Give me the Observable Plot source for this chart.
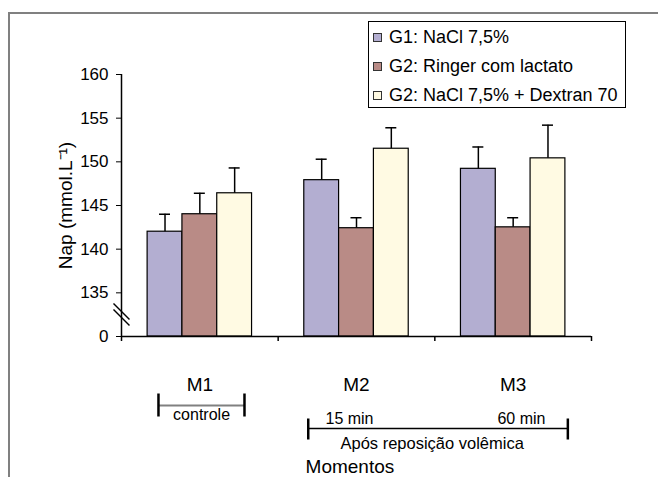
<!DOCTYPE html>
<html><head><meta charset="utf-8">
<script src="https://cdn.jsdelivr.net/npm/d3@7"></script>
<script src="https://cdn.jsdelivr.net/npm/@observablehq/plot@0.6"></script>
<style>
body{margin:0;background:#fff;}
#wrap{position:relative;width:658px;height:477px;overflow:hidden;font-family:"Liberation Sans",Arial,sans-serif;background:#fff;}
#border{position:absolute;left:8px;top:12px;width:700px;height:500px;border-top:2px solid #808080;border-left:2px solid #808080;}
#chart{position:absolute;left:0;top:0;}
#legend{position:absolute;left:368px;top:21px;width:256px;height:85px;border:1.5px solid #000;background:#fff;}
.row{position:absolute;left:0;height:22px;display:flex;align-items:center;font-size:18px;white-space:nowrap;color:#000;}
.sw{width:7px;height:7px;border:1px solid #333;margin-left:4px;margin-right:7px;flex:none;}
</style></head>
<body><div id="wrap"><div id="border"></div><div id="chart"></div><div id="legend"></div></div>
<script>
// ---- data ----
const moments = ["M1", "M2", "M3"];
const groups = ["G1: NaCl 7,5%", "G2: Ringer com lactato", "G2: NaCl 7,5% + Dextran 70"];
const colors = ["#b3aed1", "#b98b86", "#fffae3"];
const g1Mean = [142.0, 147.9, 149.2];
const g2Mean = [144.0, 142.4, 142.5];
const g3Mean = [146.4, 151.5, 150.4];
const g1Sd = [2.0, 2.4, 2.5];
const g2Sd = [2.4, 1.2, 1.1];
const g3Sd = [2.9, 2.4, 3.8];
const yTicks = [130, 135, 140, 145, 150, 155, 160];
const yTickLabels = ["0", "135", "140", "145", "150", "155", "160"];
const yLabel = "Nap (mmol.L⁻¹)";
const xLabel = "Momentos";
const controlLabel = "controle";
const afterLabel = "Após reposição volêmica";
const t15Label = "15 min";
const t60Label = "60 min";

// ---- build table ----
const means = [g1Mean, g2Mean, g3Mean];
const sds = [g1Sd, g2Sd, g3Sd];
const nG = groups.length;
const slot = nG + 1.5; // bar slots per moment (incl. outer padding)
const rows = moments.flatMap((m, i) => groups.map((g, j) => {
  const x1 = i + (0.75 + j) / slot;
  return {moment: m, group: g, mean: means[j][i], sd: sds[j][i], x1, x2: x1 + 1 / slot, xc: x1 + 0.5 / slot};
}));
const boundaries = d3.range(moments.length + 1);

// ---- layout ----
const W = 658, H = 477, mL = 121, mR = 67, mT = 74, mB = 141;
const frameH = H - mT - mB;
const yMin = yTicks[0], yMax = yTicks[yTicks.length - 1];
const below = px => yMin - px * (yMax - yMin) / frameH; // px below the x axis
const unit = (W - mL - mR) / moments.length;
const pxX = px => px / unit; // horizontal px in x units
const cap = pxX(5.5);

const chart = Plot.plot({
  width: W, height: H,
  marginLeft: mL, marginRight: mR, marginTop: mT, marginBottom: mB,
  style: {fontFamily: '"Liberation Sans", Arial, sans-serif', fontSize: "17px", color: "#000", background: "transparent"},
  x: {domain: [0, moments.length], axis: null},
  y: {domain: [yMin, yMax], ticks: yTicks, tickFormat: d => yTickLabels[yTicks.indexOf(d)], tickSize: 5, tickPadding: 8, label: null},
  color: {domain: groups, range: colors},
  marks: [
    Plot.rectY(rows, {x1: "x1", x2: "x2", y1: yMin, y2: "mean", fill: "group", stroke: "#000", strokeWidth: 1.2}),
    Plot.ruleX(rows, {x: "xc", y1: "mean", y2: d => d.mean + d.sd, stroke: "#000", strokeWidth: 1.5}),
    Plot.ruleY(rows, {y: d => d.mean + d.sd, x1: d => d.xc - cap, x2: d => d.xc + cap, stroke: "#000", strokeWidth: 1.5}),
    // axes lines
    Plot.ruleX([0], {y1: yMin, y2: yMax, stroke: "#000", strokeWidth: 1.5}),
    Plot.ruleY([yMin], {stroke: "#000", strokeWidth: 1.5}),
    Plot.ruleX(boundaries, {y1: yMin, y2: below(5), stroke: "#000", strokeWidth: 1.5}),
    // axis break marks
    Plot.link([-3, 3], {x1: -pxX(8), x2: pxX(8), y1: d => below(-22 + d - 8), y2: d => below(-22 + d + 8), stroke: "#000", strokeWidth: 1.5}),
    // moment labels
    Plot.text(moments, {x: (d, i) => i + 0.5, y: below(48), text: d => d, fontSize: 19}),
    // controle bracket
    Plot.link([0], {x1: 0.236, x2: 0.785, y1: below(69), y2: below(69), stroke: "#808080", strokeWidth: 2}),
    Plot.link([0.236, 0.785], {x1: d => d, x2: d => d, y1: below(57), y2: below(80), stroke: "#000", strokeWidth: 2.5}),
    Plot.text([controlLabel], {x: 0.511, y: below(78), text: d => d, fontSize: 16}),
    // post-reposition bracket
    Plot.link([0], {x1: 1.192, x2: 2.849, y1: below(92), y2: below(92), stroke: "#000", strokeWidth: 1.5}),
    Plot.link([1.192, 2.849], {x1: d => d, x2: d => d, y1: below(82), y2: below(103), stroke: "#000", strokeWidth: 2.5}),
    Plot.text([t15Label], {x: 1.302, y: below(82), text: d => d, fontSize: 16, textAnchor: "start"}),
    Plot.text([t60Label], {x: 2.706, y: below(82), text: d => d, fontSize: 16, textAnchor: "end"}),
    Plot.text([afterLabel], {x: 1.983, y: below(107), text: d => d, fontSize: 16.5}),
    Plot.text([xLabel], {x: 1.458, y: below(130), text: d => d, fontSize: 19}),
    // y label
    Plot.text([yLabel], {frameAnchor: "left", dx: -56, rotate: -90, textAnchor: "middle", lineAnchor: "middle", text: d => d, fontSize: 19})
  ]
});
document.getElementById("chart").appendChild(chart);

// ---- legend ----
const legend = document.getElementById("legend");
const rowCenters = [17.3, 45.7, 75];
groups.forEach((g, j) => {
  const r = document.createElement("div");
  r.className = "row";
  r.style.top = (rowCenters[j] - 11 - 1.5) + "px";
  const sw = document.createElement("span");
  sw.className = "sw";
  sw.style.background = colors[j];
  const t = document.createElement("span");
  t.textContent = g;
  r.appendChild(sw); r.appendChild(t);
  legend.appendChild(r);
});
</script>
</body></html>
